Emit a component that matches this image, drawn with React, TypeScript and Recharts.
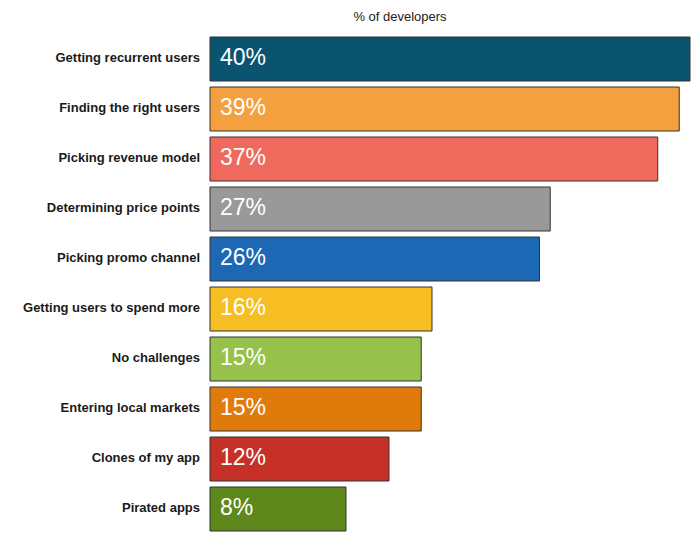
import React from 'react';
import { BarChart, Bar, XAxis, YAxis, Cell, LabelList } from 'recharts';

// categories, top to bottom
const challenges = [
    "Getting recurrent users",
    "Finding the right users",
    "Picking revenue model",
    "Determining price points",
    "Picking promo channel",
    "Getting users to spend more",
    "No challenges",
    "Entering local markets",
    "Clones of my app",
    "Pirated apps",
];

// % of developers
const shares = [40, 39, 37, 27, 26, 16, 15, 15, 12, 8];

const barColors = [
    "#0B5470",
    "#F4A03F",
    "#F0695D",
    "#999999",
    "#1C68B5",
    "#F6BE22",
    "#96C14A",
    "#E07B0B",
    "#C53127",
    "#5E881B",
];

// the original axis does not start at zero
const AXIS_MIN = -4.65;
const AXIS_MAX = 40;

const FONT = '"Liberation Sans", Arial, sans-serif';

const App: React.FC = () => {
    const chartData = challenges.map((name, i) => ({
        name,
        value: shares[i],
        range: [AXIS_MIN, shares[i]],
    }));

    return (
        <div style={{ position: 'absolute', left: 0, top: 0, width: 700, height: 544, background: '#fff' }}>
            <div
                style={{
                    position: 'absolute',
                    left: 300,
                    width: 200,
                    top: 9,
                    textAlign: 'center',
                    fontFamily: FONT,
                    fontSize: 13,
                    color: '#222',
                }}
            >
                % of developers
            </div>
            <BarChart
                width={700}
                height={544}
                data={chartData}
                layout="vertical"
                margin={{ top: 34, right: 10, bottom: 10, left: 0 }}
                barCategoryGap={3}
            >
                <XAxis type="number" domain={[AXIS_MIN, AXIS_MAX]} hide />
                <YAxis
                    type="category"
                    dataKey="name"
                    width={210}
                    axisLine={false}
                    tickLine={false}
                    tickSize={0}
                    tickMargin={10}
                    interval={0}
                    dy={-2}
                    tick={{ fill: '#1a1a1a', fontSize: 13, fontWeight: 'bold', fontFamily: FONT }}
                />
                <Bar dataKey="range" stroke="#333" strokeWidth={1} isAnimationActive={false}>
                    {chartData.map((entry, index) => (
                        <Cell key={`cell-${index}`} fill={barColors[index]} />
                    ))}
                    <LabelList
                        dataKey="value"
                        position="insideLeft"
                        offset={10}
                        dy={-2}
                        formatter={(v: number) => `${v}%`}
                        style={{ fill: '#fff', fontSize: 23, fontFamily: FONT }}
                    />
                </Bar>
            </BarChart>
        </div>
    );
};

export default App;
